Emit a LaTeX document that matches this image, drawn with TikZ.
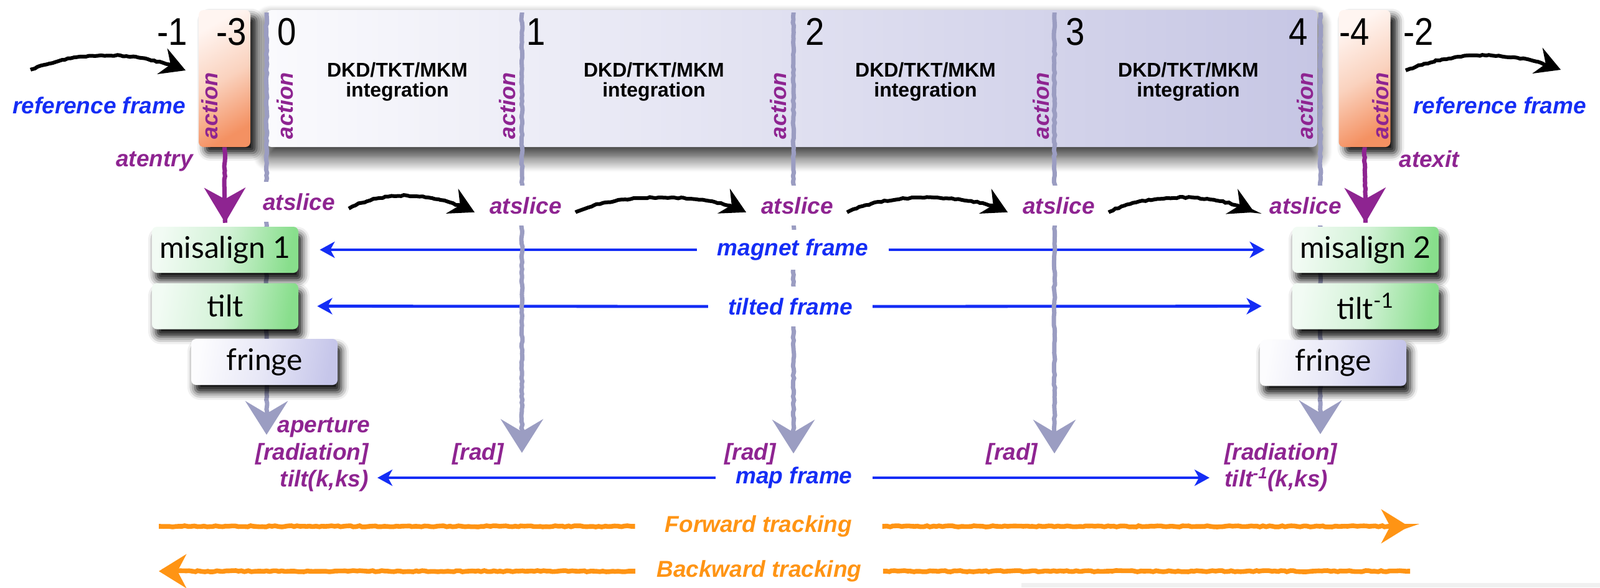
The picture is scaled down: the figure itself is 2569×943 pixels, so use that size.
\documentclass[tikz,border=0pt]{standalone}
\usepackage{fontspec}
\setmainfont{Liberation Sans}
\newfontfamily\numfont[FakeStretch=0.88]{Liberation Sans}
\newfontfamily\gillfont{Lato}
\usetikzlibrary{arrows.meta,decorations.pathmorphing,shadows.blur,calc}
\pgfdeclarelayer{mid}
\pgfsetlayers{mid,main}
\definecolor{purp}{RGB}{142,36,145}
\definecolor{fblue}{RGB}{20,45,245}
\definecolor{gline}{RGB}{155,157,194}
\definecolor{orng}{RGB}{255,148,20}
\definecolor{boxL}{RGB}{250,250,253}
\definecolor{boxR}{RGB}{198,198,228}
\definecolor{orL}{RGB}{255,245,241}
\definecolor{orM}{RGB}{250,210,190}
\definecolor{orR}{RGB}{244,145,98}
\definecolor{grL}{RGB}{242,251,244}
\definecolor{grM}{RGB}{210,242,214}
\definecolor{grR}{RGB}{136,222,140}
\definecolor{frL}{RGB}{252,252,254}
\definecolor{frR}{RGB}{198,198,234}
\begin{document}
\begin{tikzpicture}[x=0.5pt,y=-0.5pt,
  lab/.style={font=\bfseries\itshape\fontsize{18.5}{20}\selectfont, text=purp, inner sep=0pt},
  slab/.style={font=\bfseries\itshape\fontsize{18.5}{20}\selectfont, text=purp, fill=white, inner xsep=13pt, inner ysep=0pt, minimum height=32pt},
  blab/.style={font=\bfseries\itshape\fontsize{18.5}{20}\selectfont, text=fblue, fill=white, inner xsep=16pt, inner ysep=0pt, minimum height=32pt},
  rlab/.style={font=\bfseries\itshape\fontsize{18.5}{20}\selectfont, text=fblue, inner sep=0pt},
  olab/.style={font=\bfseries\itshape\fontsize{18.5}{20}\selectfont, text=orng, inner ysep=0pt},
  num/.style={font=\numfont\fontsize{31}{31}\selectfont, inner sep=0pt, anchor=base},
  act/.style={font=\bfseries\itshape\fontsize{18}{18}\selectfont, text=purp, rotate=90, inner sep=0pt},
  dkd/.style={font=\bfseries\fontsize{16}{16}\selectfont, align=center, inner sep=0pt},
  sbox/.style={rounded corners=4pt, inner sep=0pt, minimum width=117.5pt, minimum height=37pt,
     font=\gillfont\fontsize{24}{24}\selectfont,
     blur shadow={shadow xshift=3pt, shadow yshift=-6pt, shadow blur radius=6pt, shadow opacity=95}},
  greenbox/.style={sbox, top color=grL, bottom color=grR, middle color=grM, shading angle=80},
  fringebox/.style={sbox, top color=frL, bottom color=frR, middle color=frL!60!frR, shading angle=80},
  orbox/.style={rounded corners=4pt, inner sep=0pt, minimum width=41.5pt, minimum height=110pt,
     top color=orL, bottom color=orR, middle color=orM, shading angle=30,
     blur shadow={shadow xshift=5pt, shadow yshift=-5pt, shadow blur radius=6pt, shadow opacity=95}},
  rough/.style={decorate, decoration={random steps, segment length=2.5pt, amplitude=0.5pt, pre length=1pt, post length=3pt}},
  garrow/.style={rough, draw=gline, line width=3.5pt, -{Stealth[length=27pt,width=34pt,inset=10pt]}},
  parrow/.style={rough, draw=purp, line width=3.5pt, -{Stealth[length=28pt,width=33pt,inset=9pt]}},
  barrow/.style={rough, draw=black, line width=3pt, -{Stealth[length=20pt,width=22pt,inset=7pt]}},
  blu/.style={draw=fblue, line width=2.4pt, -{Stealth[length=12pt,width=13pt,inset=3.5pt]}},
  oline/.style={rough, draw=orng, line width=3.8pt},
  oarrow/.style={oline, -{Stealth[length=22pt,width=27pt,inset=7pt]}}
]
\useasboundingbox (0,0) rectangle (2569,943);
\fill[black!6] (1640,936) rectangle (2569,943);

% ---- background boxes ----
\node[rounded corners=4pt, inner sep=0pt, minimum width=843.5pt, minimum height=110pt,
      left color=boxL, right color=boxR,
      blur shadow={shadow xshift=0pt, shadow yshift=-8pt, shadow blur radius=12pt, shadow blur steps=14, shadow opacity=85}]
      (mainbox) at (1271.5,126) {};
\node[orbox] (orL) at (360.5,126) {};
\node[orbox] (orR) at (2191,126) {};

% ---- gray slice lines ----
\coordinate (g0t) at (428,20);  \coordinate (g0e) at (428,698);
\coordinate (g1t) at (838,20);  \coordinate (g1e) at (838,727);
\coordinate (g2t) at (1274,20); \coordinate (g2e) at (1274,728);
\coordinate (g3t) at (1693,20); \coordinate (g3e) at (1693,728);
\coordinate (g4t) at (2120,20); \coordinate (g4e) at (2120,697);
\foreach \i in {0,...,4}{\draw[garrow] (g\i t) -- (g\i e);}

% ---- numbers ----
\node[num] (nm1) at (277,72) {-1};
\node[num] (nm3) at (372,72) {-3};
\node[num] (n0) at (460.5,72) {0};
\node[num] (n1) at (861,72) {1};
\node[num] (n2) at (1309,72) {2};
\node[num] (n3) at (1726.5,72) {3};
\node[num] (n4) at (2085,72) {4};
\node[num] (nm4) at (2175,72) {-4};
\node[num] (nm2) at (2277.5,72) {-2};

% ---- action labels ----
\node[act] (aL) at (337,170) {action};
\node[act] (a0) at (457.5,170) {action};
\node[act] (a1) at (815,170) {action};
\node[act] (a2) at (1250,170) {action};
\node[act] (a3) at (1672,170) {action};
\node[act] (a4) at (2096,170) {action};
\node[act] (aR) at (2217,170) {action};

% ---- integration labels ----
\node[dkd] (d1) at (638,131) {DKD/TKT/MKM\\integration};
\node[dkd] (d2) at (1050,131) {DKD/TKT/MKM\\integration};
\node[dkd] (d3) at (1486,131) {DKD/TKT/MKM\\integration};
\node[dkd] (d4) at (1908,131) {DKD/TKT/MKM\\integration};

% ---- reference frame ----
\node[rlab, anchor=base] (refL) at (159,182) {reference frame};
\node[rlab, anchor=base] (refR) at (2408,182) {reference frame};
\coordinate (tlA) at (49,112);   \coordinate (tlB) at (298,113);
\coordinate (trA) at (2257,113); \coordinate (trB) at (2506,112);
\draw[barrow] (tlA) .. controls +(70,-28) and +(-90,-35) .. (tlB);
\draw[barrow] (trA) .. controls +(70,-28) and +(-90,-35) .. (trB);

\node[lab, anchor=base east] (aten) at (310,267) {atentry};
\node[lab, anchor=base west] (atex) at (2246,268) {atexit};

% ---- atslice labels ----
\node[slab, anchor=base] (as1) at (480,337) {atslice};
\node[slab, anchor=base] (as2) at (844,343) {atslice};
\node[slab, anchor=base] (as3) at (1280,343) {atslice};
\node[slab, anchor=base] (as4) at (1700,343) {atslice};
\node[slab, anchor=base] (as5) at (2096,343) {atslice};
\foreach \a/\b in {as1/as2,as2/as3,as3/as4,as4/as5}{
  \draw[barrow] ($(\a.east)+(-4,11)$) .. controls +(53,-28) and +(-71,-35) .. ($(\b.west)+(2,11)$);}

% ---- frame labels ----
\node[blab] (mag) at (1273,401) {magnet frame};
\node[blab] (tlt) at (1269,492) {tilted frame};
\node[blab] (map) at (1275,767) {map frame};

% ---- element boxes ----
\node[greenbox] (mis1) at (361.5,401) {misalign 1};
\node[greenbox] (tilt) at (361.5,491.5) {tilt};
\node[fringebox] (frL) at (424.5,581) {fringe};
\node[greenbox] (mis2) at (2192.5,401) {misalign 2};
\node[greenbox] (tinv) at (2192.5,491.5) {tilt\textsuperscript{-1}};
\node[fringebox] (frR) at (2140.5,582.5) {fringe};

\draw[parrow, shorten >=3pt] (orL.south) -- (mis1.north);
\draw[parrow, shorten >=3pt] (orR.south) -- (mis2.north);

% ---- exit labels ----
\node[lab, anchor=base east] (ap) at (594,694) {aperture};
\node[lab, anchor=base east] (radL) at (592,738) {[radiation]};
\node[lab, anchor=base east] (tkL) at (592,781) {tilt(k,ks)};
\node[lab, anchor=base west] (radR) at (1966,738) {[radiation]};
\node[lab, anchor=base west] (tkR) at (1966,781) {tilt\textsuperscript{-1}(k,ks)};
\node[lab, anchor=base] (rad1) at (767.5,738) {[rad]};
\node[lab, anchor=base] (rad2) at (1204.5,738) {[rad]};
\node[lab, anchor=base] (rad3) at (1625,738) {[rad]};

% ---- blue frame arrows ----
\begin{pgfonlayer}{mid}
\draw[blu, shorten >=17pt] (mag.west) -- (mis1.east);
\draw[blu, shorten >=22pt] (mag.east) -- (mis2.west);
\draw[blu, shorten >=15pt] (tlt.west) -- (tilt.east);
\draw[blu, shorten >=24.5pt] (tlt.east) -- (tinv.west);
\draw[blu, shorten >=7pt] (map.west) -- (map.west -| tkL.east);
\draw[blu, shorten >=12pt] (map.east) -- (map.east -| tkR.west);
\end{pgfonlayer}

% ---- tracking direction ----
\node[olab, inner xsep=24pt] (fwd) at (1218,845) {Forward tracking};
\node[olab, inner xsep=17pt] (bwd) at (1219,917) {Backward tracking};
\coordinate (fS) at (255,845);  \coordinate (fE) at (2262,845);
\coordinate (bS) at (2264,917); \coordinate (bE) at (255,917);
\draw[oline] (fS) -- (fwd.west);
\draw[oarrow] (fwd.east) -- (fE);
\draw[oline] (bS) -- (bwd.east);
\draw[oarrow] (bwd.west) -- (bE);
\end{tikzpicture}
\end{document}
